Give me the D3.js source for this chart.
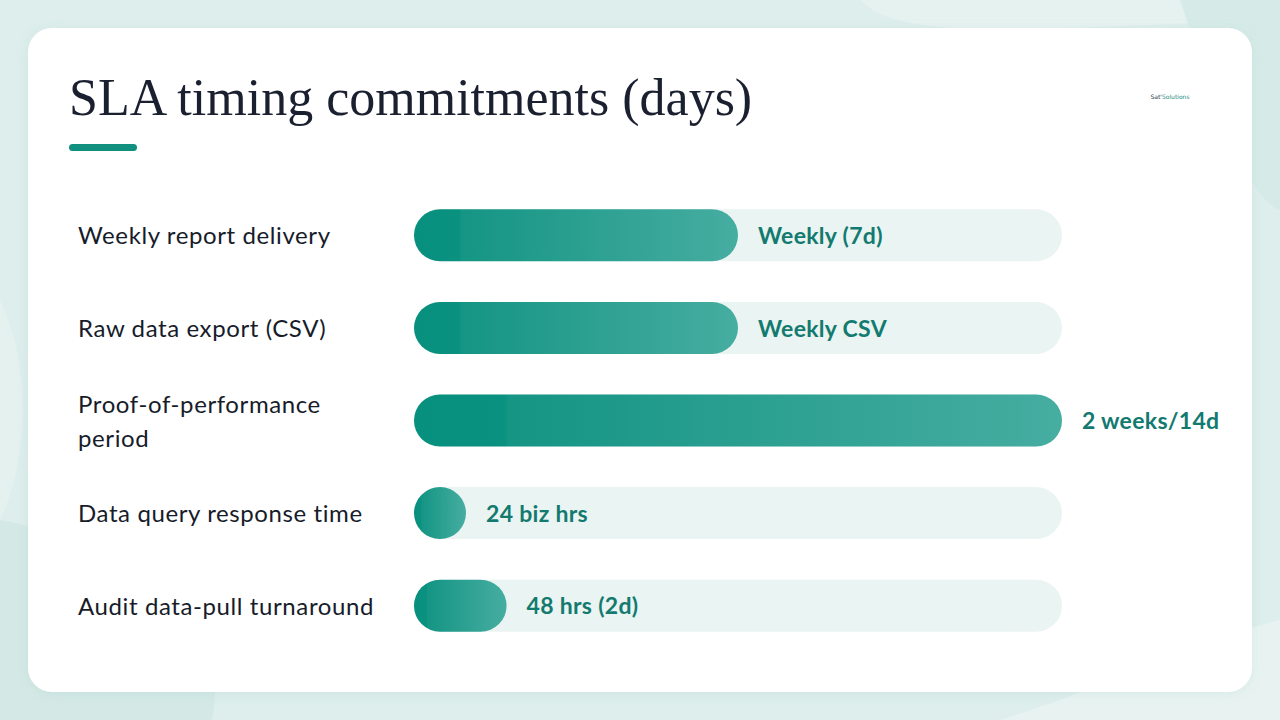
<!DOCTYPE html>
<html>
<head>
<meta charset="utf-8">
<script src="https://cdn.jsdelivr.net/npm/d3@7/dist/d3.min.js"></script>
<style>
    html, body { margin: 0; padding: 0; background: #ddeeec; }
    svg { display: block; }
</style>
</head>
<body>
<div id="chart"></div>
<script>
    // data (days)
    var categories = [
        ["Weekly report delivery"],
        ["Raw data export (CSV)"],
        ["Proof-of-performance", "period"],
        ["Data query response time"],
        ["Audit data-pull turnaround"]
    ];
    var values = [7, 7, 14, 1, 2];
    var valueLabels = ["Weekly (7d)", "Weekly CSV", "2 weeks/14d", "24 biz hrs", "48 hrs (2d)"];
    var maxDays = 14;

    var W = 1280, H = 720;
    var svg = d3.select("#chart").append("svg")
        .attr("width", W)
        .attr("height", H);

    var defs = svg.append("defs");

    // soft background blobs
    svg.append("rect").attr("width", W).attr("height", H).attr("fill", "#ddeeec");
    svg.append("path")
        .attr("d", "M860,0 C900,40 1000,30 1280,20 L1280,0 Z")
        .attr("fill", "#e6f2f0");
    svg.append("path")
        .attr("d", "M1180,0 C1220,120 1250,200 1280,210 L1280,0 Z")
        .attr("fill", "#d6ebe8");
    svg.append("path")
        .attr("d", "M0,520 C60,530 120,560 200,640 C220,680 215,700 212,720 L0,720 Z")
        .attr("fill", "#d4e9e6");
    svg.append("path")
        .attr("d", "M0,300 C30,360 30,460 0,520 Z")
        .attr("fill", "#e4f1ef");
    svg.append("path")
        .attr("d", "M1000,720 C1100,690 1200,640 1280,620 L1280,720 Z")
        .attr("fill", "#e8f3f1");

    var shadow = defs.append("filter").attr("id", "shadow")
        .attr("x", "-5%").attr("y", "-5%").attr("width", "110%").attr("height", "115%");
    shadow.append("feDropShadow")
        .attr("dx", 0).attr("dy", 2).attr("stdDeviation", 6)
        .attr("flood-color", "#6a9e97").attr("flood-opacity", 0.12);

    // card
    svg.append("rect")
        .attr("x", 28).attr("y", 28)
        .attr("width", 1224).attr("height", 664)
        .attr("rx", 24)
        .attr("fill", "#ffffff")
        .attr("filter", "url(#shadow)");

    // title
    svg.append("text")
        .attr("x", 69).attr("y", 115)
        .style("font-family", "'Liberation Serif', 'DejaVu Serif', serif")
        .style("font-size", "52px")
        .style("fill", "#1b2030")
        .text("SLA timing commitments (days)");

    svg.append("rect")
        .attr("x", 69).attr("y", 144)
        .attr("width", 68).attr("height", 7)
        .attr("rx", 3.5)
        .attr("fill", "#11907f");

    // little logo mark
    var logo = svg.append("text")
        .attr("x", 1170).attr("y", 99)
        .attr("text-anchor", "middle")
        .style("font-family", "'DejaVu Sans', sans-serif")
        .style("font-size", "6px");
    logo.append("tspan").attr("fill", "#26303a").text("Sat'");
    logo.append("tspan").attr("fill", "#2a8c86").text("Solutions");

    // gradient for filled bars
    var grad = defs.append("linearGradient")
        .attr("id", "barGrad")
        .attr("x1", "0%").attr("x2", "100%").attr("y1", "0%").attr("y2", "0%");
    grad.append("stop").attr("offset", "0%").attr("stop-color", "#08907f");
    grad.append("stop").attr("offset", "14%").attr("stop-color", "#0a917f");
    grad.append("stop").attr("offset", "14.5%").attr("stop-color", "#159584");
    grad.append("stop").attr("offset", "100%").attr("stop-color", "#46ada1");

    // scales
    var x = d3.scaleLinear().domain([0, maxDays]).range([414, 1062]);
    var y = d3.scaleBand()
        .domain(d3.range(categories.length))
        .range([189, 652])
        .paddingInner(0.44)
        .paddingOuter(0.22);
    var barH = 52;

    var rows = svg.append("g").selectAll("g.row")
        .data(values)
        .enter()
        .append("g")
        .attr("class", "row")
        .attr("transform", function (d, i) {
            return "translate(0," + (y(i) + y.bandwidth() / 2) + ")";
        });

    // tracks
    rows.append("rect")
        .attr("x", x(0))
        .attr("y", -barH / 2)
        .attr("width", x(maxDays) - x(0))
        .attr("height", barH)
        .attr("rx", barH / 2)
        .attr("fill", "#eaf4f2");

    function barW(d) {
        return Math.max(x(d) - x(0), barH);
    }

    // value bars
    rows.append("rect")
        .attr("x", x(0))
        .attr("y", -barH / 2)
        .attr("width", barW)
        .attr("height", barH)
        .attr("rx", barH / 2)
        .attr("fill", "url(#barGrad)");

    // value labels
    rows.append("text")
        .attr("x", function (d) { return x(0) + barW(d) + 20; })
        .attr("dy", "0.38em")
        .style("font-family", "Lato, sans-serif")
        .style("font-weight", "bold")
        .style("font-size", "23px")
        .style("letter-spacing", "0.3px")
        .style("fill", "#137a6f")
        .text(function (d, i) { return valueLabels[i]; });

    // category labels
    rows.append("text")
        .attr("x", 78)
        .style("font-family", "Lato, sans-serif")
        .style("font-size", "24px")
        .style("letter-spacing", "0.6px")
        .style("fill", "#171c2a")
        .each(function (d, i) {
            var lines = categories[i];
            var t = d3.select(this);
            lines.forEach(function (ln, k) {
                t.append("tspan")
                    .attr("x", 78)
                    .attr("y", (k - (lines.length - 1) / 2) * 34)
                    .attr("dy", "0.38em")
                    .text(ln);
            });
        });
</script>
</body>
</html>
